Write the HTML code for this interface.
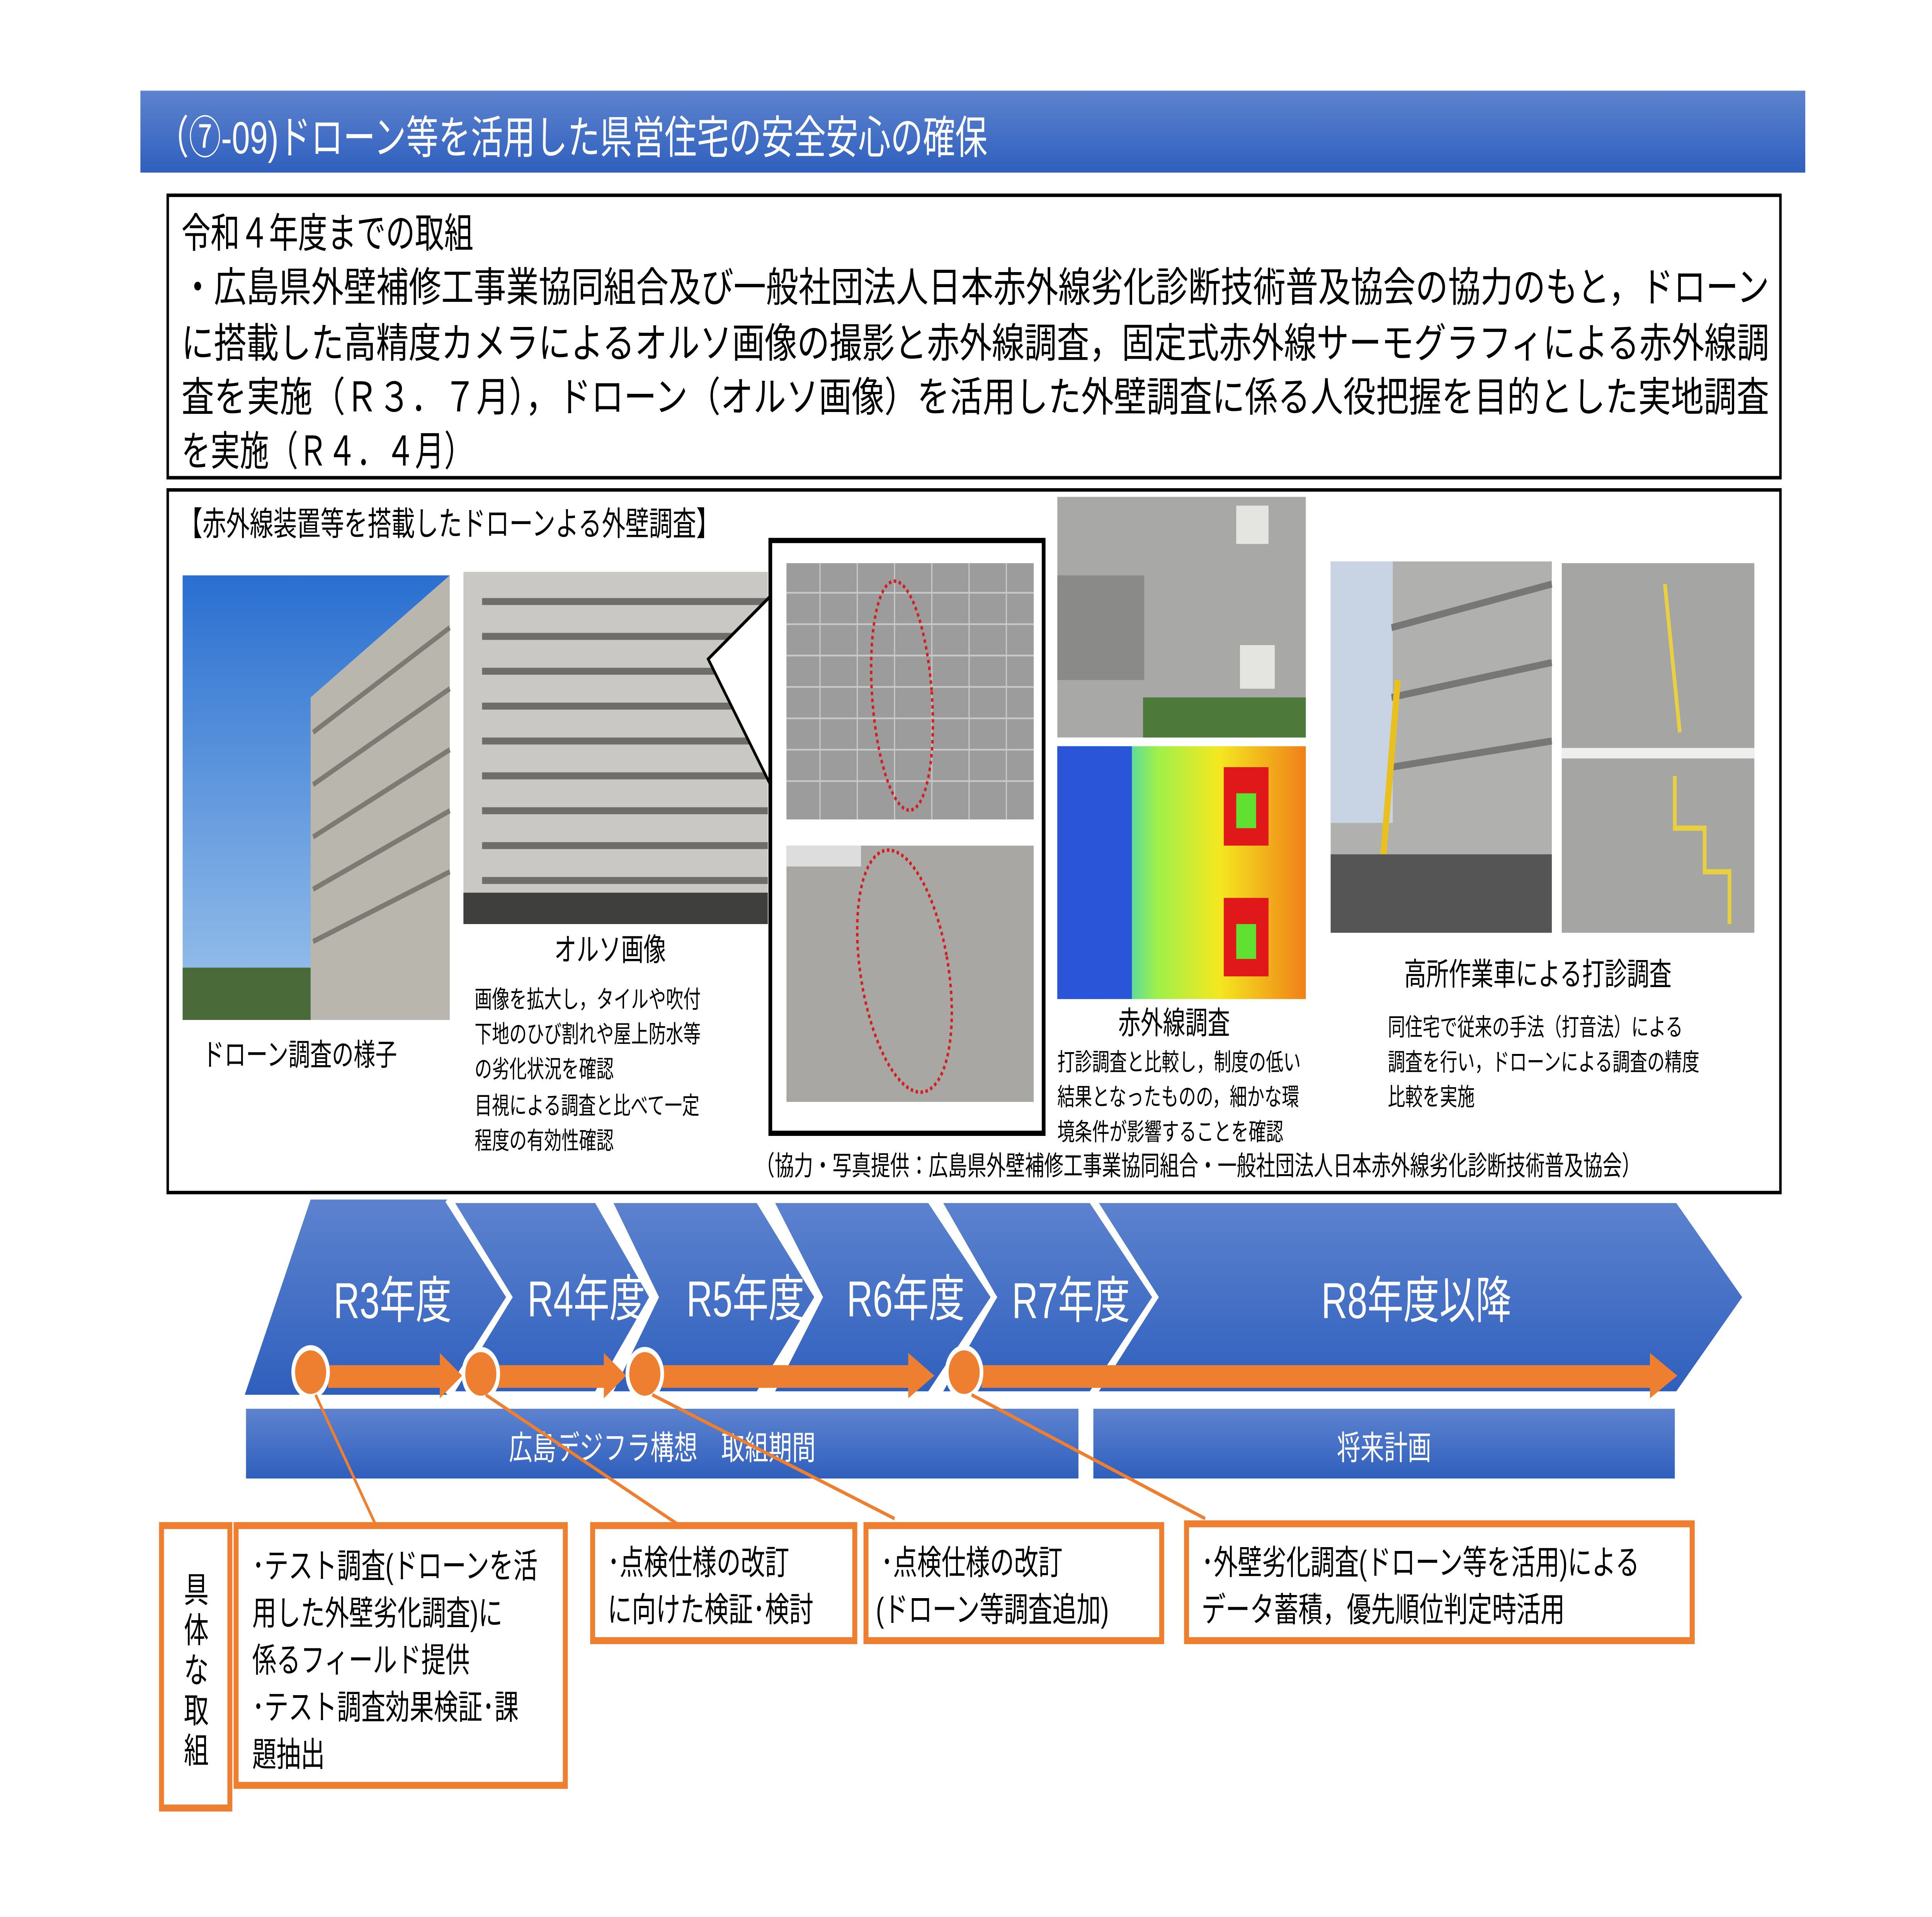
<!DOCTYPE html>
<html><head><meta charset="utf-8"><style>
html,body{margin:0;padding:0;background:#fff;width:100%;height:100%;overflow:hidden;}
svg{display:block;position:fixed;left:0;top:0;width:100vw;height:100vh;}
text{font-family:"Liberation Sans","Noto Sans CJK JP",sans-serif;}
</style></head><body>
<svg viewBox="0 0 1555 1099.5" preserveAspectRatio="none" xmlns="http://www.w3.org/2000/svg">
<defs>
<linearGradient id="bl" x1="0" y1="0" x2="0" y2="1"><stop offset="0" stop-color="#5d83cf"/><stop offset="1" stop-color="#2f5fbd"/></linearGradient>
<linearGradient id="sky" x1="0" y1="0" x2="0" y2="1"><stop offset="0" stop-color="#2a6fd0"/><stop offset="1" stop-color="#9cc4ec"/></linearGradient>
<linearGradient id="th" x1="0" y1="0" x2="1" y2="0"><stop offset="0" stop-color="#1d4fd8"/><stop offset="0.2" stop-color="#20c8e8"/><stop offset="0.4" stop-color="#9ef04a"/><stop offset="0.65" stop-color="#f4e820"/><stop offset="1" stop-color="#f08018"/></linearGradient>
</defs>
<rect x="0" y="0" width="1555" height="1099.5" fill="#fff"/>
<rect x="113" y="52" width="1340" height="47" fill="url(#bl)"/>
<text x="126" y="88" font-size="26" fill="#fff">（⑦-09)ドローン等を活用した県営住宅の安全安心の確保</text>
<rect x="135" y="112" width="1298" height="162" fill="none" stroke="#000" stroke-width="2"/>
<g font-size="23.5" fill="#000">
<text x="146" y="142">令和４年度までの取組</text>
<text x="146" y="173" textLength="1278" lengthAdjust="spacingAndGlyphs">・広島県外壁補修工事業協同組合及び一般社団法人日本赤外線劣化診断技術普及協会の協力のもと，ドローン</text>
<text x="146" y="205" textLength="1278" lengthAdjust="spacingAndGlyphs">に搭載した高精度カメラによるオルソ画像の撮影と赤外線調査，固定式赤外線サーモグラフィによる赤外線調</text>
<text x="146" y="236" textLength="1278" lengthAdjust="spacingAndGlyphs">査を実施（Ｒ３．７月），ドローン（オルソ画像）を活用した外壁調査に係る人役把握を目的とした実地調査</text>
<text x="146" y="267">を実施（Ｒ４．４月）</text>
</g>
<rect x="135" y="281" width="1298" height="403" fill="none" stroke="#000" stroke-width="2"/>
<text x="144" y="307" font-size="19">【赤外線装置等を搭載したドローンよる外壁調査】</text>
<rect x="147" y="330" width="215" height="255" fill="url(#sky)"/>
<polygon points="250,400 362,330 362,585 250,585" fill="#b9b6ae"/>
<g stroke="#7d7a74" stroke-width="3"><line x1="252" y1="420" x2="362" y2="360"/><line x1="252" y1="450" x2="362" y2="395"/><line x1="252" y1="480" x2="362" y2="430"/><line x1="252" y1="510" x2="362" y2="465"/><line x1="252" y1="540" x2="362" y2="500"/></g>
<rect x="147" y="555" width="103" height="30" fill="#4a6a3a"/>
<text x="163" y="611" font-size="17.5">ドローン調査の様子</text>
<rect x="373" y="328" width="245" height="202" fill="#c9c8c4"/>
<g stroke="#6e6d6a" stroke-width="4"><line x1="388" y1="345" x2="618" y2="345"/><line x1="388" y1="365" x2="618" y2="365"/><line x1="388" y1="385" x2="618" y2="385"/><line x1="388" y1="405" x2="618" y2="405"/><line x1="388" y1="425" x2="618" y2="425"/><line x1="388" y1="445" x2="618" y2="445"/><line x1="388" y1="465" x2="618" y2="465"/><line x1="388" y1="485" x2="618" y2="485"/><line x1="388" y1="505" x2="618" y2="505"/></g>
<rect x="373" y="512" width="245" height="18" fill="#3f3f3d"/>
<text x="446" y="551" font-size="18">オルソ画像</text>
<g font-size="14">
<text x="382" y="578">画像を拡大し，タイルや吹付</text>
<text x="382" y="598">下地のひび割れや屋上防水等</text>
<text x="382" y="618">の劣化状況を確認</text>
<text x="382" y="639">目視による調査と比べて一定</text>
<text x="382" y="659">程度の有効性確認</text>
</g>
<polygon points="570,378 620,342 620,450" fill="#fff" stroke="#000" stroke-width="2"/>
<rect x="620" y="310" width="220" height="340" fill="#fff" stroke="#000" stroke-width="3"/>
<rect x="633" y="323" width="199" height="147" fill="#9c9c9c"/>
<g stroke="#c8c8c8" stroke-width="1">
<line x1="633" y1="340" x2="832" y2="340"/><line x1="633" y1="358" x2="832" y2="358"/><line x1="633" y1="376" x2="832" y2="376"/><line x1="633" y1="394" x2="832" y2="394"/><line x1="633" y1="412" x2="832" y2="412"/><line x1="633" y1="430" x2="832" y2="430"/><line x1="633" y1="448" x2="832" y2="448"/>
<line x1="660" y1="323" x2="660" y2="470"/><line x1="690" y1="323" x2="690" y2="470"/><line x1="720" y1="323" x2="720" y2="470"/><line x1="750" y1="323" x2="750" y2="470"/><line x1="780" y1="323" x2="780" y2="470"/><line x1="810" y1="323" x2="810" y2="470"/></g>
<ellipse cx="726" cy="399" rx="24" ry="66" fill="none" stroke="#d02020" stroke-width="2" stroke-dasharray="2,2" transform="rotate(-6 726 399)"/>
<rect x="633" y="485" width="199" height="147" fill="#a9a7a4"/>
<rect x="633" y="485" width="60" height="12" fill="#ddd"/>
<ellipse cx="728" cy="557" rx="35" ry="71" fill="none" stroke="#d02020" stroke-width="2" stroke-dasharray="2,2" transform="rotate(-14 728 557)"/>
<rect x="851" y="285" width="200" height="138" fill="#a8a8a6"/>
<rect x="851" y="330" width="70" height="60" fill="#8a8a88"/>
<rect x="995" y="290" width="26" height="22" fill="#e4e4e0"/><rect x="998" y="370" width="28" height="25" fill="#e4e4e0"/>
<rect x="920" y="400" width="131" height="23" fill="#4d7a3a"/>
<rect x="851" y="428" width="200" height="145" fill="url(#th)"/>
<rect x="851" y="428" width="60" height="145" fill="#2a55d8"/>
<rect x="985" y="440" width="36" height="45" fill="#e0181a"/><rect x="985" y="515" width="36" height="45" fill="#e0181a"/>
<rect x="995" y="455" width="16" height="20" fill="#60e030"/><rect x="995" y="530" width="16" height="20" fill="#60e030"/>
<text x="900" y="593" font-size="18">赤外線調査</text>
<g font-size="14">
<text x="851" y="614">打診調査と比較し，制度の低い</text>
<text x="851" y="634">結果となったものの，細かな環</text>
<text x="851" y="654">境条件が影響することを確認</text>
</g>
<rect x="1071" y="322" width="178" height="213" fill="#b0b0ae"/>
<rect x="1071" y="322" width="50" height="150" fill="#c8d4e4"/>
<g stroke="#777" stroke-width="4"><line x1="1120" y1="360" x2="1249" y2="335"/><line x1="1120" y1="400" x2="1249" y2="380"/><line x1="1120" y1="440" x2="1249" y2="425"/></g>
<line x1="1110" y1="520" x2="1125" y2="390" stroke="#e8c020" stroke-width="5"/>
<rect x="1071" y="490" width="178" height="45" fill="#555"/>
<rect x="1257" y="323" width="155" height="212" fill="#a5a5a3"/>
<line x1="1257" y1="432" x2="1412" y2="432" stroke="#eee" stroke-width="6"/>
<line x1="1340" y1="335" x2="1352" y2="420" stroke="#e8d040" stroke-width="3"/>
<polyline points="1348,445 1348,475 1372,475 1372,500 1392,500 1392,530" fill="none" stroke="#e8d040" stroke-width="3"/>
<text x="1130" y="565" font-size="18">高所作業車による打診調査</text>
<g font-size="14">
<text x="1117" y="594">同住宅で従来の手法（打音法）による</text>
<text x="1117" y="614">調査を行い，ドローンによる調査の精度</text>
<text x="1117" y="634">比較を実施</text>
</g>
<text x="608" y="674" font-size="15.5">（協力・写真提供：広島県外壁補修工事業協同組合・一般社団法人日本赤外線劣化診断技術普及協会）</text>
<g fill="url(#bl)" stroke="#fff" stroke-width="4">
<polygon points="880,688 1350,688 1405,744 1350,800 880,800 930,744"/>
<polygon points="755,688 878,688 930,744 878,800 755,800 800,744"/>
<polygon points="620,688 748,688 800,744 748,800 620,800 660,744"/>
<polygon points="490,688 610,688 658,744 610,800 490,800 528,744"/>
<polygon points="362,688 480,688 525,744 480,800 362,800 410,744"/>
<polygon points="197,800 250,688 360,688 410,744 360,800" stroke="none"/>
<polyline points="360,688 410,744 360,800" fill="none"/>
</g>
<rect x="195" y="800" width="1215" height="6" fill="#fff"/>
<g font-size="29" fill="#fff" text-anchor="middle">
<text x="316" y="756">R3年度</text><text x="472" y="755">R4年度</text><text x="600" y="755">R5年度</text><text x="729" y="755">R6年度</text><text x="862" y="756">R7年度</text><text x="1140" y="756">R8年度以降</text>
</g>
<g fill="#ef7f30">
<rect x="264" y="783" width="92" height="13"/><polygon points="354,776 372,789 354,802"/>
<rect x="400" y="783" width="88" height="13"/><polygon points="486,776 504,789 486,802"/>
<rect x="533" y="783" width="200" height="13"/><polygon points="731,776 752,789 731,802"/>
<rect x="790" y="783" width="540" height="13"/><polygon points="1328,776 1350,789 1328,802"/>
</g>
<g fill="#ef7f30" stroke="#fff" stroke-width="3">
<circle cx="250" cy="787" r="14"/><circle cx="387" cy="788" r="14"/><circle cx="519" cy="788" r="14"/><circle cx="776" cy="787" r="14"/>
</g>
<rect x="198" y="808" width="670" height="40" fill="url(#bl)"/>
<rect x="880" y="808" width="468" height="40" fill="url(#bl)"/>
<text x="533" y="837" font-size="19" fill="#fff" text-anchor="middle">広島デジフラ構想　取組期間</text>
<text x="1114" y="837" font-size="19" fill="#fff" text-anchor="middle">将来計画</text>
<g stroke="#ef7f30" stroke-width="2">
<line x1="254" y1="800" x2="302" y2="874"/><line x1="391" y1="800" x2="545" y2="874"/><line x1="525" y1="800" x2="720" y2="871"/><line x1="782" y1="800" x2="970" y2="871"/>
</g>
<g fill="#fff" stroke="#ef7f30" stroke-width="4">
<rect x="130" y="875" width="55" height="162"/>
<rect x="190" y="875" width="265" height="149"/>
<rect x="477" y="875" width="211" height="66"/>
<rect x="697" y="875" width="238" height="66"/>
<rect x="955" y="874" width="407" height="67"/>
</g>
<g font-size="20" text-anchor="middle">
<text x="158" y="919">具</text><text x="158" y="942">体</text><text x="158" y="965">な</text><text x="158" y="988">取</text><text x="158" y="1011">組</text>
</g>
<g font-size="19.5">
<text x="203" y="905">･テスト調査(ドローンを活</text>
<text x="203" y="932">用した外壁劣化調査)に</text>
<text x="203" y="959">係るフィールド提供</text>
<text x="203" y="986">･テスト調査効果検証･課</text>
<text x="203" y="1013">題抽出</text>
<text x="489" y="903">･点検仕様の改訂</text>
<text x="489" y="930">に向けた検証･検討</text>
<text x="709" y="903">･点検仕様の改訂</text>
<text x="705" y="930">(ドローン等調査追加)</text>
<text x="967" y="903">･外壁劣化調査(ドローン等を活用)による</text>
<text x="967" y="930">データ蓄積，優先順位判定時活用</text>
</g>
</svg>
</body></html>
